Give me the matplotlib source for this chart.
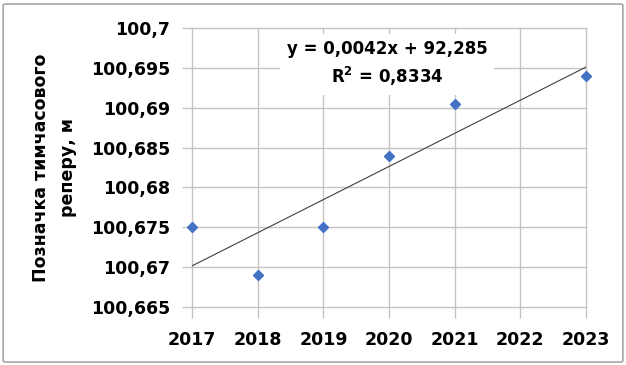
import numpy as np
import matplotlib.pyplot as plt
from matplotlib.patches import FancyBboxPatch
from matplotlib.ticker import FuncFormatter

years = [2017, 2018, 2019, 2020, 2021, 2023]
heights = [100.675, 100.669, 100.675, 100.684, 100.6905, 100.694]
x_ticks = [2017, 2018, 2019, 2020, 2021, 2022, 2023]
y_ticks = [100.665, 100.67, 100.675, 100.68, 100.685, 100.69, 100.695, 100.7]
y_label = 'Позначка тимчасового\nреперу, м'

plt.rcParams['font.family'] = ['DejaVu Sans']
plt.rcParams['font.weight'] = 'bold'

# лінійний тренд і R²
x = np.array(years, dtype=float)
y = np.array(heights)
k, b = np.polyfit(x, y, 1)
fit = k * x + b
r2 = 1 - np.sum((y - fit) ** 2) / np.sum((y - y.mean()) ** 2)


def comma(v, digits):
    return f'{v:.{digits}f}'.replace('.', ',')


fig = plt.figure(figsize=(6.26, 3.65), dpi=100)
ax = fig.add_axes([0.307, 0.159, 0.629, 0.764])

# рамка навколо діаграми
fig.patches.append(FancyBboxPatch((0.005, 0.008), 0.990, 0.981, boxstyle='round,pad=0,rounding_size=0.004',
                                  transform=fig.transFigure, fill=False, edgecolor='#a6a6a6', linewidth=1.2))

ax.set_xlim(2017, 2023)
ax.set_ylim(100.665, 100.7)
ax.set_xticks(x_ticks)
ax.set_yticks(y_ticks)
ax.yaxis.set_major_formatter(FuncFormatter(lambda v, p: f'{v:.3f}'.rstrip('0').replace('.', ',')))
ax.grid(True, color='#c4c4c4', linewidth=1.0)
ax.set_axisbelow(True)
for gl in ax.get_xgridlines() + ax.get_ygridlines():
    gl.set_clip_on(False)
for s in ax.spines.values():
    s.set_visible(False)
ax.tick_params(axis='x', length=8, color='#c4c4c4', width=1.0, labelsize=12.5, pad=9)
ax.tick_params(axis='y', length=7, color='#c4c4c4', width=1.0, labelsize=12.5, pad=9)
for lab in ax.get_xticklabels() + ax.get_yticklabels():
    lab.set_fontweight('bold')

xs = np.array([2017, 2023])
ax.plot(xs, k * xs + b, color='#404040', linewidth=0.8, zorder=2)
ax.plot(years, heights, linestyle='none', marker='D', markersize=5.5, color='#4472c4', zorder=3, clip_on=False)

eq = f'y = {comma(k, 4)}x + {comma(b, 3)}\nR$^2$ = {comma(r2, 4)}'
ax.text(2019.97, 100.6955, eq, ha='center', va='center', fontsize=12, fontweight='bold', linespacing=1.4,
        bbox=dict(facecolor='white', edgecolor='none', pad=5), zorder=4)

ax.set_ylabel(y_label, fontsize=12.5, fontweight='bold', labelpad=10, linespacing=1.65)

fig.savefig('out.png', dpi=100)
